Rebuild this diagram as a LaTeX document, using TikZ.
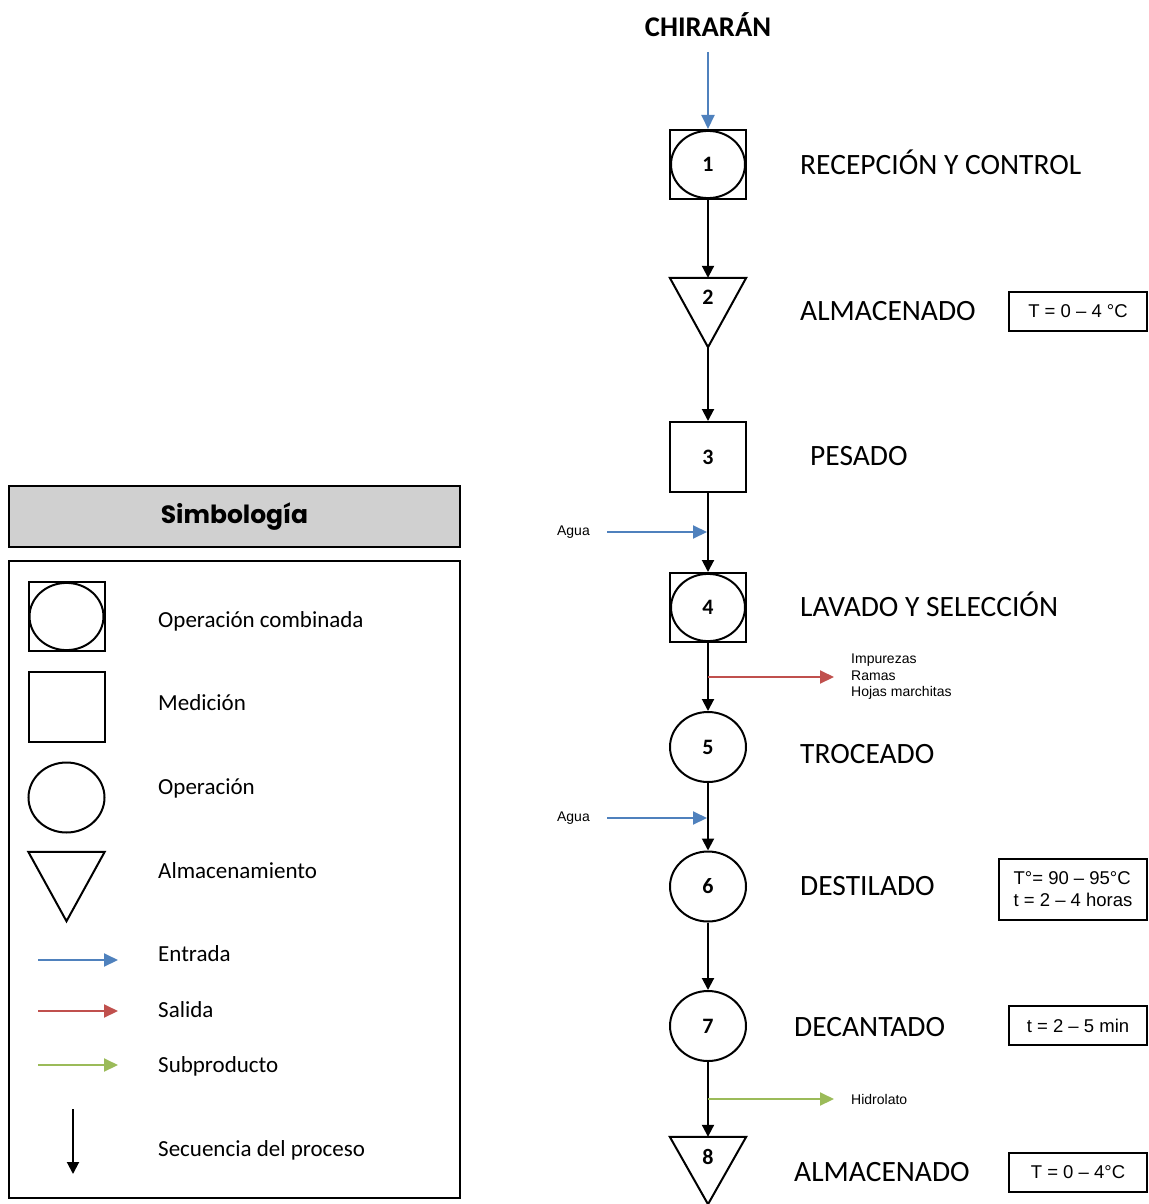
\documentclass[tikz,border=0pt]{standalone}
\usepackage{fontspec}
\setmainfont{Carlito}
\newfontfamily\arial{Liberation Sans}
\newfontfamily\pop{Poppins}
\usetikzlibrary{shapes.geometric,arrows.meta}
\definecolor{cblue}{HTML}{4F81BD}
\definecolor{cred}{HTML}{C0504D}
\definecolor{cgreen}{HTML}{9BBB59}
\definecolor{cgray}{HTML}{D0D0D0}
\tikzset{
  seq/.style={line width=2pt, -{Triangle[width=12pt,length=12pt]}},
  inarrow/.style={line width=2pt, draw=cblue, -{Triangle[width=13pt,length=14pt]}, cblue},
  outarrow/.style={line width=2pt, draw=cred, -{Triangle[width=13pt,length=14pt]}, cred},
  subarrow/.style={line width=2pt, draw=cgreen, -{Triangle[width=13pt,length=14pt]}, cgreen},
  num/.style={font=\fontsize{22}{26}\selectfont\bfseries},
  combo/.style={draw, line width=2pt, minimum width=76, minimum height=69, inner sep=0,
     path picture={\draw[line width=2pt] (path picture bounding box.center) ellipse (37pt and 33.6pt);}, num},
  meas/.style={draw, line width=2pt, minimum width=76, minimum height=70, inner sep=0, num},
  oper/.style={draw, ellipse, line width=2pt, minimum width=76, minimum height=70, inner sep=0, num},
  stor/.style={minimum width=76, minimum height=69, inner sep=0,
     append after command={\pgfextra{\draw[line width=2pt,line join=miter] (\tikzlastnode.north west) -- (\tikzlastnode.north east) -- (\tikzlastnode.south) -- cycle;}}},
  steplabel/.style={anchor=west, inner sep=0, text height=19pt, text depth=0pt, font=\fontsize{29.5}{34}\selectfont},
  small/.style={inner sep=0, font=\arial\fontsize{14}{16.5}\selectfont},
  cond/.style={draw, line width=1.2pt, inner sep=0, font=\arial\fontsize{18.5}{22}\selectfont},
  legtext/.style={anchor=west, inner sep=0, text height=15pt, text depth=0pt, font=\fontsize{23}{27}\selectfont},
}
\begin{document}
\begin{tikzpicture}[x=1pt,y=-1pt]
\useasboundingbox (0,0) rectangle (1148,1204);
% title
\node[inner sep=0, text height=19pt, text depth=0pt, font=\fontsize{28.5}{32}\selectfont\bfseries] (title) at (708,27) {CHIRARÁN};
\coordinate (tin) at (708,52);
% process nodes
\node[combo] (n1) at (708,164.5) {1};
\node[stor] (n2) at (708,312.5) {};
\node[num] (n2t) at (708,297) {2};
\node[meas] (n3) at (708,457) {3};
\node[combo] (n4) at (708,607.5) {4};
\node[oper] (n5) at (708,747) {5};
\node[oper] (n6) at (708,886.5) {6};
\node[oper] (n7) at (708,1026) {7};
\node[stor, minimum height=67] (n8) at (708,1170.5) {};
\node[num] (n8t) at (708,1157) {8};
% connectors
\draw[inarrow] (tin) -- (n1.north);
\draw[seq] (n1.south) -- (n2.north);
\draw[seq] (n2.south) -- (n3.north);
\draw[seq] (n3.south) -- (n4.north);
\draw[seq] (n4.south) -- (n5.north);
\draw[seq] (n5.south) -- (n6.north);
\draw[seq] (n6.south) -- (n7.north);
\draw[seq] (n7.south) -- (n8.north);
% side streams
\node[small, anchor=east] (agua1) at (590,532) {Agua};
\coordinate (a1s) at (607,532);
\coordinate (a1e) at (707,532);
\draw[inarrow] (a1s) -- (a1e);
\node[small, anchor=east] (agua2) at (590,818) {Agua};
\coordinate (a2s) at (607,818);
\coordinate (a2e) at (707,818);
\draw[inarrow] (a2s) -- (a2e);
\coordinate (r1s) at (708,677);
\coordinate (r1e) at (834,677);
\draw[outarrow] (r1s) -- (r1e);
\node[small, anchor=west, align=left] (imp) at (851,677) {Impurezas\\Ramas\\Hojas marchitas};
\coordinate (g1s) at (708,1099);
\coordinate (g1e) at (834,1099);
\draw[subarrow] (g1s) -- (g1e);
\node[small, anchor=west] (hid) at (851,1099) {Hidrolato};
% step labels
\node[steplabel] (l1) at (800,165) {RECEPCIÓN Y CONTROL};
\node[steplabel] (l2) at (800,311) {ALMACENADO};
\node[steplabel] (l3) at (810,456) {PESADO};
\node[steplabel] (l4) at (800,607) {LAVADO Y SELECCIÓN};
\node[steplabel] (l5) at (800,754) {TROCEADO};
\node[steplabel] (l6) at (800,886) {DESTILADO};
\node[steplabel] (l7) at (794,1027) {DECANTADO};
\node[steplabel] (l8) at (794,1172) {ALMACENADO};
% condition boxes
\node[cond, minimum width=138, minimum height=39] (c2) at (1078,311.5) {T = 0 – 4 °C};
\node[cond, minimum width=148, minimum height=61, align=left] (c6) at (1073,889.5) {T°= 90 – 95°C\\t = 2 – 4 horas};
\node[cond, minimum width=138, minimum height=39] (c7) at (1078,1025.5) {t = 2 – 5 min};
\node[cond, minimum width=138, minimum height=39] (c8) at (1078,1172.5) {T = 0 – 4°C};
% legend
\node[draw, line width=2pt, fill=cgray, minimum width=451, minimum height=61, inner sep=0,
      font=\pop\bfseries\fontsize{25}{29}\selectfont] (legtitle) at (234.5,516.5) {Simbología};
\node[draw, line width=2pt, minimum width=451, minimum height=637, inner sep=0] (legbox) at (234.5,879.5) {};
\node[combo] (s1) at (66.5,616.5) {};
\node[legtext] (t1) at (158,620) {Operación combinada};
\node[meas] (s2) at (66.5,707) {};
\node[legtext] (t2) at (158,703) {Medición};
\node[oper] (s3) at (66.5,797.5) {};
\node[legtext] (t3) at (158,787) {Operación};
\node[stor] (s4) at (66.5,886.5) {};
\node[legtext] (t4) at (158,871) {Almacenamiento};
\coordinate (e1s) at (38,960); \coordinate (e1e) at (118,960);
\draw[inarrow] (e1s) -- (e1e);
\node[legtext] (t5) at (158,954) {Entrada};
\coordinate (e2s) at (38,1011); \coordinate (e2e) at (118,1011);
\draw[outarrow] (e2s) -- (e2e);
\node[legtext] (t6) at (158,1010) {Salida};
\coordinate (e3s) at (38,1065); \coordinate (e3e) at (118,1065);
\draw[subarrow] (e3s) -- (e3e);
\node[legtext] (t7) at (158,1065) {Subproducto};
\coordinate (e4s) at (73,1109); \coordinate (e4e) at (73,1174);
\draw[seq] (e4s) -- (e4e);
\node[legtext] (t8) at (158,1149) {Secuencia del proceso};
\end{tikzpicture}
\end{document}
